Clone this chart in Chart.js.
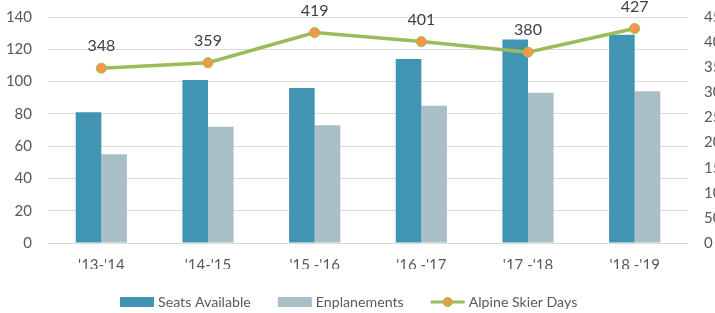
<!DOCTYPE html>
<html><head><meta charset="utf-8">
<script src="https://cdn.jsdelivr.net/npm/chart.js@4/dist/chart.umd.min.js"></script>
<style>
html,body{margin:0;padding:0;background:#fff;overflow:hidden;width:715px;height:313px;}
#wrap{position:relative;width:740px;height:313px;}
</style></head>
<body><div id="wrap"><canvas id="c" width="740" height="313"></canvas></div>
<script>
const categories = ["'13-'14", "'14-'15", "'15 -'16", "'16 -'17", "'17 -'18", "'18 -'19"];
const seatsAvailable = [81, 101, 96, 114, 126, 129];
const enplanements = [55, 72, 73, 85, 93, 94];
const alpineSkierDays = [348, 359, 419, 401, 380, 427];
const leftTicks = [0, 20, 40, 60, 80, 100, 120, 140];
const rightTicks = [0, 50, 100, 150, 200, 250, 300, 350, 400, 450];
const seriesNames = ['Seats Available', 'Enplanements', 'Alpine Skier Days'];

const FONT = "Lato, 'Open Sans', sans-serif";
const TXT = '#595959';
const C_SEATS = '#4195b3', C_ENPL = '#a8bfc6', C_LINE = '#9bbb59', C_PT = '#f79646';

const labelPlugin = {
  id: 'lineLabels',
  afterDatasetsDraw(chart) {
    const ctx = chart.ctx;
    const meta = chart.getDatasetMeta(2);
    ctx.save();
    ctx.font = '16px ' + FONT;
    ctx.fillStyle = '#404040';
    ctx.textAlign = 'center';
    ctx.textBaseline = 'middle';
    meta.data.forEach((pt, i) => {
      ctx.fillText(String(alpineSkierDays[i]), pt.x, pt.y - 22);
    });
    ctx.restore();
  }
};

const legendPlugin = {
  id: 'customLegend',
  afterDraw(chart) {
    const ctx = chart.ctx;
    const cy = chart.height - 11;
    ctx.save();
    ctx.font = '14.2px ' + FONT;
    ctx.textBaseline = 'middle';
    ctx.textAlign = 'left';
    let x = 120;
    chart.data.datasets.forEach((ds, i) => {
      if (ds.type === 'bar') {
        ctx.fillStyle = ds.backgroundColor;
        ctx.fillRect(x, cy - 5, 34, 10);
      } else {
        ctx.strokeStyle = C_LINE; ctx.lineWidth = 3;
        ctx.beginPath(); ctx.moveTo(x, cy); ctx.lineTo(x + 34, cy); ctx.stroke();
        ctx.fillStyle = C_PT; ctx.lineWidth = 1;
        ctx.beginPath(); ctx.arc(x + 17, cy, 4.5, 0, Math.PI * 2); ctx.fill(); ctx.stroke();
      }
      x += 34 + 4;
      ctx.fillStyle = TXT;
      ctx.fillText(ds.label, x, cy + 0.5);
      x += ctx.measureText(ds.label).width + 27;
    });
    ctx.restore();
  }
};

function fixVertical(width) {
  return function (s) { s.width = width; s.paddingTop = 0; s.paddingBottom = 0; };
}

new Chart(document.getElementById('c'), {
  data: {
    labels: categories,
    datasets: [
      { type: 'bar', label: seriesNames[0], data: seatsAvailable, backgroundColor: C_SEATS, yAxisID: 'y', order: 2, barPercentage: 1, categoryPercentage: 0.48 },
      { type: 'bar', label: seriesNames[1], data: enplanements, backgroundColor: C_ENPL, yAxisID: 'y', order: 2, barPercentage: 1, categoryPercentage: 0.48 },
      { type: 'line', label: seriesNames[2], data: alpineSkierDays, borderColor: C_LINE, backgroundColor: C_PT, borderWidth: 3.5, pointRadius: 5, pointBackgroundColor: C_PT, pointBorderColor: C_LINE, pointBorderWidth: 1, yAxisID: 'y1', order: 1, tension: 0 }
    ]
  },
  options: {
    responsive: false,
    animation: false,
    events: [],
    layout: { padding: { top: 17, bottom: 44, left: 0, right: 0 } },
    plugins: {
      tooltip: { enabled: false },
      legend: { display: false }
    },
    scales: {
      x: {
        grid: { display: false, drawTicks: false },
        border: { display: false },
        ticks: { font: { family: FONT, size: 15 }, color: TXT, padding: 13 },
        afterFit(s) { s.height = 26; s.paddingLeft = 0; s.paddingRight = 0; }
      },
      y: {
        position: 'left',
        min: 0, max: 140,
        afterBuildTicks(s) { s.ticks = leftTicks.map(v => ({ value: v })); },
        grid: { color: '#d9d9d9', lineWidth: 1, drawTicks: false },
        border: { display: false },
        ticks: { font: { family: FONT, size: 15 }, color: TXT, padding: 16 },
        afterFit: fixVertical(48)
      },
      y1: {
        position: 'right',
        min: 0, max: 450,
        afterBuildTicks(s) { s.ticks = rightTicks.map(v => ({ value: v })); },
        grid: { display: false, drawTicks: false },
        border: { display: false },
        ticks: { font: { family: FONT, size: 15 }, color: TXT, padding: 16 },
        afterFit: fixVertical(52)
      }
    }
  },
  plugins: [labelPlugin, legendPlugin]
});
</script></body></html>
